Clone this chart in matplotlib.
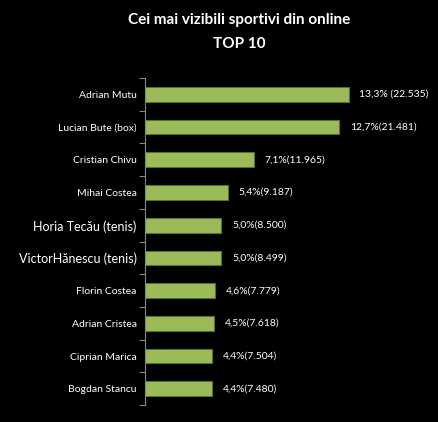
import matplotlib
matplotlib.use("Agg")
import matplotlib.pyplot as plt

names = ["Adrian Mutu", "Lucian Bute (box)", "Cristian Chivu", "Mihai Costea",
         "Horia Tecău (tenis)", "VictorHănescu (tenis)", "Florin Costea",
         "Adrian Cristea", "Ciprian Marica", "Bogdan Stancu"]
pct = [13.3, 12.7, 7.1, 5.4, 5.0, 5.0, 4.6, 4.5, 4.4, 4.4]
labels = ["13,3% (22.535)", "12,7%(21.481)", "7,1%(11.965)", "5,4%(9.187)",
          "5,0%(8.500)", "5,0%(8.499)", "4,6%(7.779)", "4,5%(7.618)",
          "4,4%(7.504)", "4,4%(7.480)"]

plt.rcParams['font.family'] = ['Lato', 'DejaVu Sans']
fig = plt.figure(figsize=(4.39, 4.22), dpi=100, facecolor='black')
ax = fig.add_axes([0.330, 0.04, 0.67, 0.775], facecolor='black')
y = list(range(len(names)))
ax.barh(y, pct, height=0.45, color='#9bbb59', edgecolor='#5a7030', linewidth=0.8)
for yi, v, t in zip(y, pct, labels):
    ax.text(v + 0.7, yi, t, color='white', fontsize=7.5, va='center')
ax.set_ylim(len(names) - 0.5, -0.5)
ax.set_xlim(0, 19.2)
ax.set_yticks([i - 0.5 for i in range(len(names) + 1)], minor=False)
ax.set_yticklabels([])
ax.set_yticks(y, minor=True)
ax.set_yticklabels(names, minor=True)
for i, lab in enumerate(ax.get_yticklabels(minor=True)):
    lab.set_color('white')
    lab.set_fontsize(9 if i in (4, 5) else 7.5)
ax.tick_params(axis='y', which='minor', length=0, pad=6)
ax.tick_params(axis='y', which='major', length=4, color='#888888')
ax.set_xticks([])
for s in ['top', 'right', 'bottom']:
    ax.spines[s].set_visible(False)
ax.spines['left'].set_color('#888888')
fig.text(0.545, 0.953, "Cei mai vizibili sportivi din online", color='white',
         fontsize=11, fontweight='bold', ha='center', va='center')
fig.text(0.545, 0.895, "TOP 10", color='white',
         fontsize=11, fontweight='bold', ha='center', va='center')
fig.savefig("out.png", dpi=100, facecolor='black')
